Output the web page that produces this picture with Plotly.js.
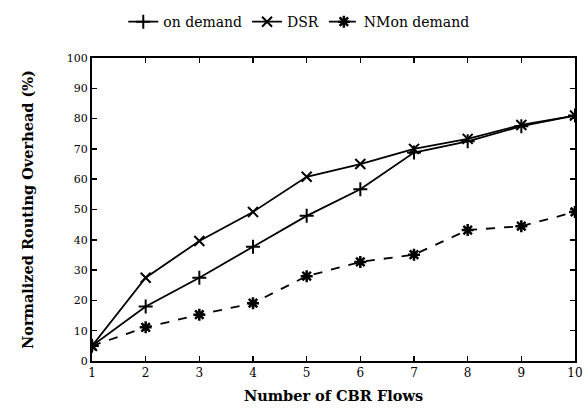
<!DOCTYPE html>
<html>
<head>
<meta charset="utf-8">
<script src="https://cdn.plot.ly/plotly-3.0.1.min.js"></script>
<style>html,body{margin:0;padding:0;background:#fff;}#chart{width:587px;height:408px;}</style>
</head>
<body>
<div id="chart"></div>
<script>
var flows = [1, 2, 3, 4, 5, 6, 7, 8, 9, 10];
var onDemand = [5, 18, 27.5, 37.7, 47.9, 56.7, 68.8, 72.5, 77.5, 81];
var dsr = [5, 27.5, 39.6, 49.2, 60.8, 65, 70, 73.3, 77.9, 81];
var nmOnDemand = [5, 11.1, 15.3, 19.1, 28, 32.7, 35.1, 43.2, 44.5, 49.2];
var seriesNames = ['on demand', 'DSR', 'NMon demand'];
var xTicks = [1, 2, 3, 4, 5, 6, 7, 8, 9, 10];
var yTicks = [0, 10, 20, 30, 40, 50, 60, 70, 80, 90, 100];

var fam = 'DejaVu Serif';

var traces = [
  {x: flows, y: onDemand, name: seriesNames[0], mode: 'lines+markers',
   line: {color: '#000', width: 1.8},
   marker: {symbol: 'cross-thin', size: 10, color: '#000', line: {color: '#000', width: 2}}},
  {x: flows, y: dsr, name: seriesNames[1], mode: 'lines+markers',
   line: {color: '#000', width: 1.8},
   marker: {symbol: 'x-thin', size: 10, color: '#000', line: {color: '#000', width: 2}}},
  {x: flows, y: nmOnDemand, name: seriesNames[2], mode: 'lines+markers',
   line: {color: '#000', width: 1.8, dash: 'dash'},
   marker: {symbol: 'asterisk-open', size: 10, color: '#000', line: {color: '#000', width: 2.5}}}
];

var layout = {
  width: 587, height: 408,
  margin: {l: 92, r: 12, t: 58, b: 47},
  paper_bgcolor: '#fff', plot_bgcolor: '#fff',
  font: {family: fam, size: 11, color: '#000'},
  showlegend: true,
  legend: {orientation: 'h', xref: 'container', yref: 'container',
           x: 0.21, y: 0.985, xanchor: 'left', yanchor: 'top',
           font: {family: fam, size: 14, color: '#000'},
           bgcolor: 'rgba(0,0,0,0)', tracegroupgap: 0},
  xaxis: {
    range: [1, 10], tickvals: xTicks, ticktext: xTicks.map(String),
    ticks: 'inside', ticklen: 5, tickwidth: 1.5, tickcolor: '#000',
    showline: true, linecolor: '#000', linewidth: 2, mirror: 'allticks',
    showgrid: false, zeroline: false, automargin: false,
    tickfont: {family: fam, size: 12, color: '#000'},
    title: {text: '<b>Number of CBR Flows</b>', font: {family: fam, size: 14.5, color: '#000'}, standoff: 11}
  },
  yaxis: {
    range: [0, 100], tickvals: yTicks, ticktext: yTicks.map(String),
    ticks: 'inside', ticklen: 5, tickwidth: 1.5, tickcolor: '#000',
    showline: true, linecolor: '#000', linewidth: 2, mirror: 'allticks',
    showgrid: false, zeroline: false, automargin: false,
    tickfont: {family: fam, size: 11, color: '#000'},
    title: {text: '<b>Normalized Routing Overhead (%)</b>', font: {family: fam, size: 14.5, color: '#000'}, standoff: 30}
  }
};

Plotly.newPlot('chart', traces, layout, {displayModeBar: false, staticPlot: true});
</script>
</body>
</html>
